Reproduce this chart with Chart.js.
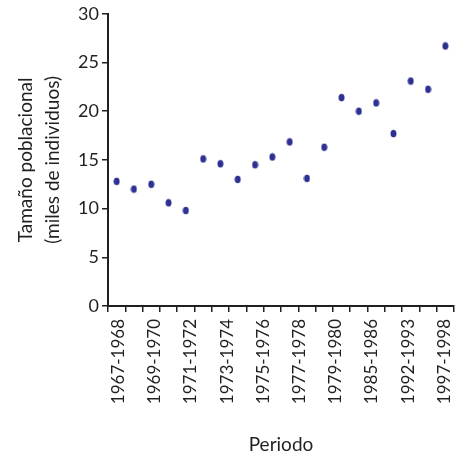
<!DOCTYPE html>
<html>
<head>
<meta charset="utf-8">
<script src="https://cdn.jsdelivr.net/npm/chart.js@4/dist/chart.umd.min.js"></script>
<style>
html,body{margin:0;padding:0;background:#fff;}
#wrap{width:458px;height:457px;}
</style>
</head>
<body>
<div id="wrap"><canvas id="c" width="458" height="457"></canvas></div>
<script>
// Tick labels shown under the x axis
const periodLabels = ['1967-1968','1969-1970','1971-1972','1973-1974','1975-1976','1977-1978','1979-1980','1985-1986','1992-1993','1997-1998'];
// Population size (thousands of individuals), one value per period, in order
const populationValues = [12.8, 12.0, 12.5, 10.6, 9.8, 15.1, 14.6, 13.0, 14.5, 15.3, 16.85, 13.1, 16.3, 21.4, 20.0, 20.85, 17.7, 23.1, 22.25, 26.7];
const yTitle = ['Tamaño poblacional', '(miles de individuos)'];
const xTitle = 'Periodo';

const pointColor = '#2E3192';
function makeEllipse(){
  const cv = document.createElement('canvas');
  cv.width = 7; cv.height = 9;
  const g = cv.getContext('2d');
  g.fillStyle = pointColor;
  g.beginPath();
  g.ellipse(3.5, 4.5, 3.0, 3.8, 0, 0, Math.PI*2);
  g.fill();
  return cv;
}
const marker = makeEllipse();

const FONT = 'Lato, "DejaVu Sans", sans-serif';
const TXT = '#231f20';

new Chart(document.getElementById('c'), {
  type: 'scatter',
  data: {
    datasets: [{
      data: populationValues.map((v, i) => ({x: i + 0.5, y: v})),
      pointStyle: marker,
      backgroundColor: pointColor,
      borderColor: 'rgba(0,0,0,0)',
      borderWidth: 0,
      pointRadius: 4
    }]
  },
  options: {
    responsive: false,
    animation: false,
    layout: {padding: {left: 12, right: 3, top: 6, bottom: 1}},
    plugins: {legend: {display: false}, tooltip: {enabled: false}},
    scales: {
      x: {
        type: 'linear', position: 'bottom', weight: 0,
        min: 0, max: populationValues.length,
        afterBuildTicks: s => { s.ticks = populationValues.concat([0]).map((_, i) => ({value: i})); },
        ticks: {display: false},
        grid: {drawOnChartArea: false, drawTicks: true, tickLength: 6, color: TXT, lineWidth: 1.5},
        border: {display: true, color: TXT, width: 2}
      },
      x2: {
        type: 'linear', position: 'bottom', weight: 1,
        min: -0.29, max: 9.27,
        afterBuildTicks: s => { s.ticks = periodLabels.map((_, i) => ({value: i})); },
        afterFit: s => { s.paddingRight = 0; s.paddingLeft = 0; },
        ticks: {
          callback: v => periodLabels[v],
          minRotation: 90, maxRotation: 90, autoSkip: false,
          font: {family: FONT, size: 17}, color: TXT, padding: 0
        },
        grid: {display: true, drawOnChartArea: false, drawTicks: true, tickLength: 7, color: 'rgba(0,0,0,0)'},
        border: {display: false},
        title: {display: true, text: xTitle, font: {family: FONT, size: 19}, color: TXT, padding: {top: 29, bottom: 0}}
      },
      y: {
        min: 0, max: 30,
        ticks: {stepSize: 5, font: {family: FONT, size: 18}, color: TXT, padding: 3},
        grid: {drawOnChartArea: false, drawTicks: true, tickLength: 6, color: TXT, lineWidth: 1.5},
        border: {display: true, color: TXT, width: 2},
        title: {display: true, text: yTitle, font: {family: FONT, size: 19, lineHeight: 1.45}, color: TXT, padding: {top: 0, bottom: 8}}
      }
    }
  }
});
</script>
</body>
</html>
